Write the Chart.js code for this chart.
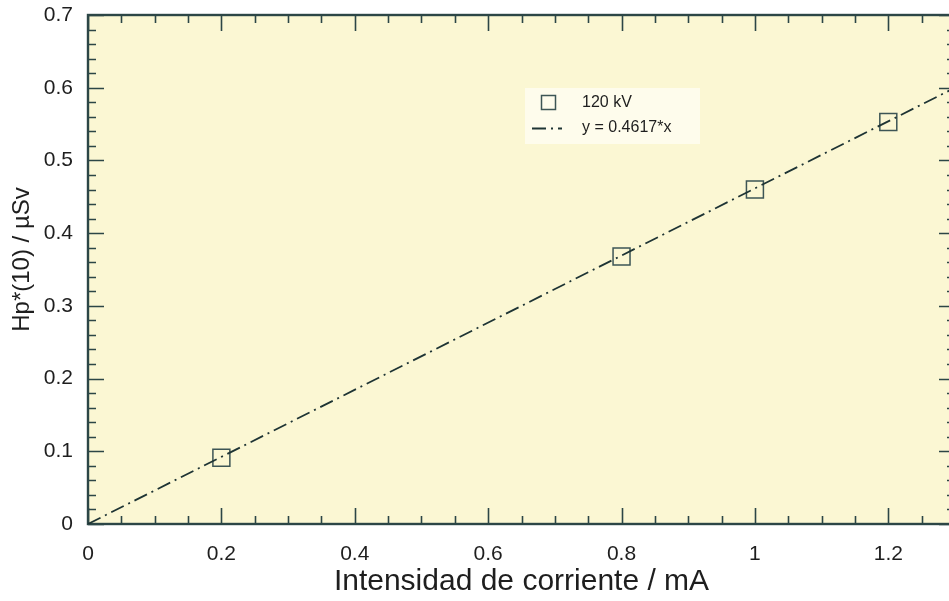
<!DOCTYPE html>
<html>
<head>
<meta charset="utf-8">
<script src="https://cdn.jsdelivr.net/npm/chart.js@4/dist/chart.umd.min.js"></script>
<style>
  html, body { margin: 0; padding: 0; background: #ffffff; overflow: hidden; }
  #wrap { width: 957px; height: 601px; }
</style>
</head>
<body>
<div id="wrap"><canvas id="doseChart" width="957" height="601"></canvas></div>
<script>
// measured points (120 kV)
const currentMA = [0.2, 0.8, 1.0, 1.2];
const doseUSv = [0.091, 0.368, 0.460, 0.553];

// fitted line y = 0.4617*x, end points
const fitX = [0, 1.3];
const fitY = [0, 0.600];

const xTicks = [0, 0.2, 0.4, 0.6, 0.8, 1, 1.2];
const yTicks = [0, 0.1, 0.2, 0.3, 0.4, 0.5, 0.6, 0.7];

const seriesLabel = '120 kV';
const fitLabel = 'y = 0.4617*x';

const AXIS_COLOR = '#2c4646';
const TEXT_COLOR = '#1e1e1e';
const FONT = '"Liberation Sans", Arial, Helvetica, sans-serif';

// plot background, frame, inward ticks on all four sides
const framePlugin = {
    id: 'frame',
    beforeDraw(chart) {
        const { ctx, chartArea: a } = chart;
        ctx.save();
        ctx.fillStyle = '#fbf7d3';
        ctx.fillRect(a.left, a.top, a.right - a.left, a.bottom - a.top);
        ctx.restore();
    },
    beforeDatasetsDraw(chart) {
        const { ctx, chartArea: a, scales } = chart;
        const xs = scales.x, ys = scales.y;
        ctx.save();
        ctx.strokeStyle = AXIS_COLOR;
        ctx.lineWidth = 1.6;
        ctx.beginPath();
        // x ticks, minor every 0.05
        for (let i = 0; i <= 26; i++) {
            const px = Math.round(xs.getPixelForValue(i * 0.05)) + 0.5;
            const len = (i % 4 === 0) ? 16 : 8;
            ctx.moveTo(px, a.bottom); ctx.lineTo(px, a.bottom - len);
            ctx.moveTo(px, a.top); ctx.lineTo(px, a.top + len);
        }
        // y ticks, minor every 0.02
        for (let i = 0; i <= 35; i++) {
            const py = Math.round(ys.getPixelForValue(i * 0.02)) + 0.5;
            const len = (i % 5 === 0) ? 16 : 8;
            ctx.moveTo(a.left, py); ctx.lineTo(a.left + len, py);
            ctx.moveTo(a.right, py); ctx.lineTo(a.right - len, py);
        }
        ctx.stroke();
        ctx.lineWidth = 2.4;
        ctx.strokeRect(a.left, a.top, a.right - a.left, a.bottom - a.top);
        ctx.restore();
    }
};

// legend box inside the plot
const legendPlugin = {
    id: 'innerLegend',
    afterDraw(chart) {
        const { ctx } = chart;
        ctx.save();
        ctx.fillStyle = '#fefcec';
        ctx.fillRect(525, 88, 175, 56);

        ctx.strokeStyle = '#3d5555';
        ctx.lineWidth = 1.5;
        ctx.strokeRect(541.5, 95.5, 14, 14);

        ctx.strokeStyle = '#1e3434';
        ctx.lineWidth = 1.8;
        ctx.setLineDash([14, 5, 2, 5]);
        ctx.beginPath();
        ctx.moveTo(532, 128.5); ctx.lineTo(562, 128.5);
        ctx.stroke();
        ctx.setLineDash([]);

        ctx.fillStyle = TEXT_COLOR;
        ctx.font = '16px ' + FONT;
        ctx.textBaseline = 'middle';
        ctx.fillText(seriesLabel, 582, 103);
        ctx.fillText(fitLabel, 582, 128);
        ctx.restore();
    }
};

new Chart(document.getElementById('doseChart'), {
    type: 'scatter',
    data: {
        datasets: [{
            label: fitLabel,
            type: 'line',
            data: fitX.map((x, i) => ({ x: x, y: fitY[i] })),
            borderColor: '#1e3434',
            borderWidth: 1.8,
            borderDash: [14, 5, 2, 5],
            pointRadius: 0,
            fill: false,
            tension: 0
        }, {
            label: seriesLabel,
            data: currentMA.map((x, i) => ({ x: x, y: doseUSv[i] })),
            pointStyle: 'rect',
            pointRadius: 12,
            pointHoverRadius: 12,
            backgroundColor: 'rgba(0,0,0,0)',
            borderColor: '#3d5555',
            borderWidth: 1.5
        }]
    },
    options: {
        responsive: false,
        animation: false,
        layout: { autoPadding: false, padding: { top: 15, right: 2, left: 0, bottom: 0 } },
        plugins: {
            legend: { display: false },
            tooltip: { enabled: false }
        },
        scales: {
            x: {
                type: 'linear',
                min: 0,
                max: 1.3,
                afterBuildTicks(scale) { scale.ticks = xTicks.map(v => ({ value: v })); },
                afterFit(scale) {
                    scale.height = 77;
                    scale.paddingLeft = 0;
                    scale.paddingRight = 0;
                },
                grid: { display: false, drawTicks: false },
                border: { display: false },
                ticks: {
                    color: TEXT_COLOR,
                    font: { family: FONT, size: 21 },
                    padding: 18,
                    maxRotation: 0,
                    callback: v => String(v)
                },
                title: {
                    display: true,
                    text: 'Intensidad de corriente / mA',
                    color: TEXT_COLOR,
                    font: { family: FONT, size: 30 },
                    padding: { top: 0, bottom: 1 }
                }
            },
            y: {
                type: 'linear',
                min: 0,
                max: 0.7,
                afterBuildTicks(scale) { scale.ticks = yTicks.map(v => ({ value: v })); },
                afterFit(scale) {
                    scale.width = 88;
                    scale.paddingTop = 0;
                    scale.paddingBottom = 0;
                },
                grid: { display: false, drawTicks: false },
                border: { display: false },
                ticks: {
                    color: TEXT_COLOR,
                    font: { family: FONT, size: 21 },
                    padding: 15,
                    callback: v => String(v)
                },
                title: {
                    display: true,
                    text: '   Hp*(10) / µSv',
                    color: TEXT_COLOR,
                    font: { family: FONT, size: 24 },
                    padding: { top: 8, bottom: 0 }
                }
            }
        }
    },
    plugins: [framePlugin, legendPlugin]
});
</script>
</body>
</html>
